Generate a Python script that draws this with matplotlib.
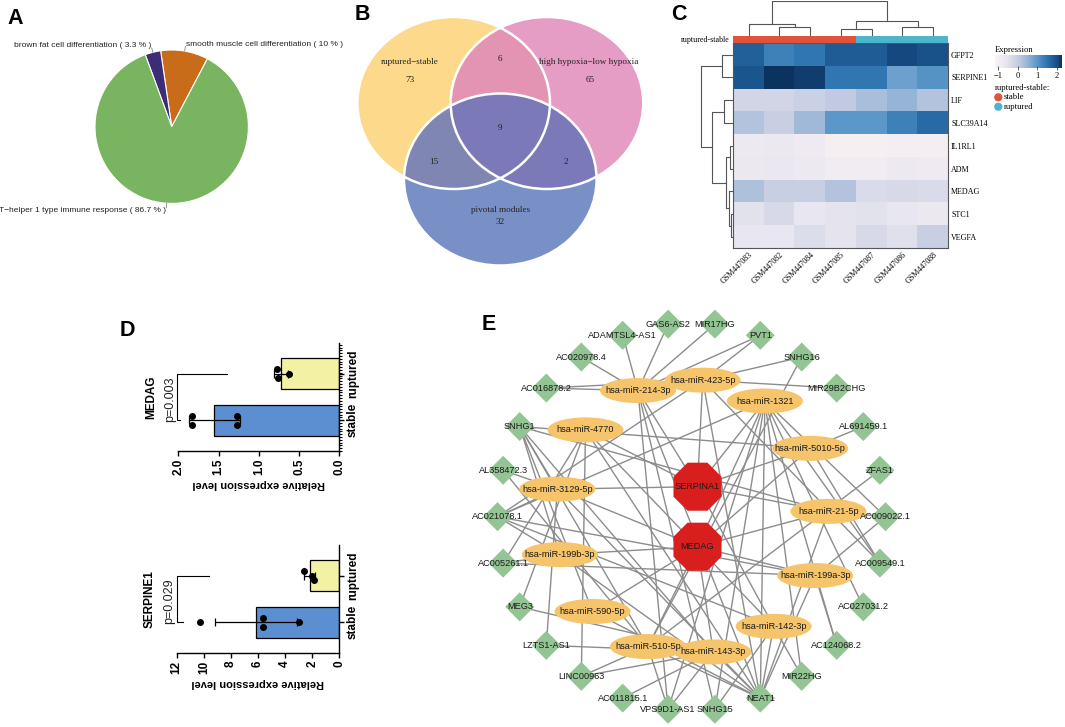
import numpy as np
import matplotlib
matplotlib.use('Agg')
import matplotlib.pyplot as plt
from matplotlib.patches import Ellipse, RegularPolygon, Circle
from matplotlib.collections import LineCollection
from matplotlib.colors import LinearSegmentedColormap
from matplotlib.ticker import MultipleLocator
import matplotlib.transforms as mtransforms

W, H = 1065, 727
SANS = ['Liberation Sans', 'DejaVu Sans']
SERIF = ['Liberation Serif', 'DejaVu Serif']
plt.rcParams['font.family'] = SANS

# ======================= DATA =======================
# --- A: GO pie ---
go_terms = ['smooth muscle cell differentiation', 'brown fat cell differentiation',
            'T\u2212helper 1 type immune response']
go_percent = [10.0, 3.3, 86.7]

# --- B: Venn ---
venn_names = ['ruptured\u2212stable', 'high hypoxia\u2212low hypoxia', 'pivotal modules']
venn_only = [73, 65, 32]          # set1 only, set2 only, set3 only
venn_pairs = [6, 15, 2]           # 1&2, 1&3, 2&3
venn_all = 9

# --- C: heatmap ---
heat_genes = ['GFPT2', 'SERPINE1', 'LIF', 'SLC39A14', 'IL1RL1', 'ADM', 'MEDAG', 'STC1', 'VEGFA']
heat_samples = ['GSM447083', 'GSM447082', 'GSM447084', 'GSM447085', 'GSM447087', 'GSM447086', 'GSM447088']
heat_groups = ['stable', 'stable', 'stable', 'stable', 'ruptured', 'ruptured', 'ruptured']
heat_values = [
    [1.75, 1.30, 1.45, 1.80, 1.80, 2.05, 1.95],
    [1.90, 2.40, 2.15, 1.45, 1.45, 0.85, 1.05],
    [-0.20, -0.20, -0.10, 0.05, 0.30, 0.50, 0.20],
    [0.20, -0.05, 0.40, 1.00, 1.00, 1.30, 1.60],
    [-0.75, -0.70, -0.80, -1.00, -1.00, -0.95, -0.95],
    [-0.70, -0.65, -0.75, -0.85, -0.85, -0.75, -0.80],
    [0.25, -0.05, -0.05, 0.20, -0.35, -0.30, -0.35],
    [-0.50, -0.30, -0.60, -0.55, -0.50, -0.60, -0.70],
    [-0.60, -0.60, -0.40, -0.55, -0.30, -0.45, -0.05],
]
# dendrograms: (height, left, right), leaves = display index
col_tree = (103, (35, 0, (27, 1, 2)), (43, (20, 3, 4), (25, 5, 6)))
row_tree = (100, (35, 0, 1), (65, (30, 2, 3), (22, (10, 4, 5), (13, 6, (8, 7, 8)))))
heat_ticks = [-1, 0, 1, 2]

# --- D: qPCR bars ---
bar_groups = ['stable', 'ruptured']
medag_stable = [1.83, 1.83, 1.275, 1.275]
medag_ruptured = [0.78, 0.76, 0.62]
serpine1_stable = [10.25, 5.66, 5.66, 3.00]
serpine1_ruptured = [2.64, 2.04, 1.88]
medag_p = 'p=0.003'
serpine1_p = 'p=0.029'
medag_bracket = [1.98, 2.02, 1.40]      # stable leg end, bar, ruptured leg end
serpine1_bracket = [11.5, 12.0, 9.6]

# --- E: ceRNA network ---
mirnas = ['hsa-miR-214-3p', 'hsa-miR-4770', 'hsa-miR-3129-5p', 'hsa-miR-199b-3p',
          'hsa-miR-590-5p', 'hsa-miR-510-5p', 'hsa-miR-143-3p', 'hsa-miR-142-3p',
          'hsa-miR-199a-3p', 'hsa-miR-21-5p', 'hsa-miR-5010-5p', 'hsa-miR-1321',
          'hsa-miR-423-5p']
lncrnas = ['AC009022.1', 'ZFAS1', 'AL691459.1', 'MIR29B2CHG', 'SNHG16', 'PVT1', 'MIR17HG',
           'GAS6-AS2', 'ADAMTSL4-AS1', 'AC020978.4', 'AC016878.2', 'SNHG1', 'AL358472.3',
           'AC021078.1', 'AC005261.1', 'MEG3', 'LZTS1-AS1', 'LINC00963', 'AC011815.1',
           'VPS9D1-AS1', 'SNHG15', 'NEAT1', 'MIR22HG', 'AC124068.2', 'AC027031.2', 'AC009549.1']
mrnas = ['SERPINA1', 'MEDAG']
net_edges = {
    'hsa-miR-214-3p': ['ADAMTSL4-AS1', 'GAS6-AS2', 'MIR17HG', 'PVT1', 'AC020978.4', 'AC016878.2',
                       'VPS9D1-AS1', 'SNHG15', 'NEAT1', 'SERPINA1'],
    'hsa-miR-423-5p': ['PVT1', 'SNHG16', 'MIR29B2CHG', 'AC016878.2', 'AC021078.1', 'SERPINA1',
                       'NEAT1', 'AC009549.1'],
    'hsa-miR-1321': ['AC021078.1', 'SERPINA1', 'MEDAG', 'NEAT1', 'SNHG15', 'VPS9D1-AS1', 'MIR22HG',
                     'AC124068.2', 'AC027031.2', 'AC009549.1', 'AC009022.1'],
    'hsa-miR-4770': ['LINC00963', 'MEG3', 'AC005261.1', 'SERPINA1', 'MEDAG', 'NEAT1'],
    'hsa-miR-5010-5p': ['AL691459.1', 'SNHG1', 'AC009549.1', 'SERPINA1', 'MEDAG'],
    'hsa-miR-3129-5p': ['SNHG1', 'AL358472.3', 'AC021078.1', 'LZTS1-AS1', 'SERPINA1', 'MEDAG', 'NEAT1'],
    'hsa-miR-21-5p': ['SNHG1', 'AC009022.1', 'SERPINA1', 'MEDAG', 'NEAT1'],
    'hsa-miR-199b-3p': ['SNHG1', 'AC021078.1', 'AC005261.1', 'MEDAG', 'NEAT1'],
    'hsa-miR-199a-3p': ['AC021078.1', 'AC005261.1', 'AC009022.1', 'AC124068.2', 'MEDAG', 'NEAT1'],
    'hsa-miR-590-5p': ['SNHG1', 'MEDAG', 'NEAT1'],
    'hsa-miR-142-3p': ['AC021078.1', 'SERPINA1', 'MEDAG', 'NEAT1', 'SNHG15', 'MIR22HG'],
    'hsa-miR-510-5p': ['SNHG1', 'AL358472.3', 'SNHG16', 'ZFAS1', 'LINC00963', 'VPS9D1-AS1', 'MEDAG', 'NEAT1'],
    'hsa-miR-143-3p': ['SNHG1', 'MEG3', 'LZTS1-AS1', 'LINC00963', 'AC011815.1', 'VPS9D1-AS1', 'MEDAG', 'NEAT1'],
}

# ======================= FIGURE =======================
fig = plt.figure(figsize=(W / 100, H / 100), dpi=100)


def box(x, y, w, h):
    return [x / W, 1 - (y + h) / H, w / W, h / H]


ov = fig.add_axes([0, 0, 1, 1])
ov.set_xlim(0, W)
ov.set_ylim(H, 0)
ov.axis('off')

# panel letters
for letter, (lx, ly) in zip('ABCDE', [(15, 18), (362, 14), (679, 14), (127, 331), (489, 325)]):
    ov.text(lx, ly, letter, fontsize=15.5, fontweight='bold', ha='center', va='center')

# ---------------- A: pie ----------------
pcx, pcy, prad = 171.7, 126.7, 76.7
axA = fig.add_axes(box(pcx - 1.5 * prad, pcy - 1.5 * prad, 3 * prad, 3 * prad))
go_colors = ['#C96C19', '#3D2C78', '#79B460']
wedges, _ = axA.pie(go_percent, colors=go_colors, startangle=62.3, counterclock=True,
                    wedgeprops=dict(edgecolor='white', linewidth=0.8))
axA.set_xlim(-1.5, 1.5)
axA.set_ylim(-1.5, 1.5)
axA.set_aspect('equal')
axA.axis('off')
for wdg, term, pct in zip(wedges, go_terms, go_percent):
    ang = np.deg2rad((wdg.theta1 + wdg.theta2) / 2)
    c, s = np.cos(ang), np.sin(ang)
    axA.plot([1.0 * c, 1.06 * c], [1.0 * s, 1.06 * s], color='#888888', lw=0.6)
    axA.text(1.09 * c, 1.09 * s, f'{term} ( {pct:g} % )', ha='left' if c > 0 else 'right',
             va='center', fontsize=6, color='#222222')

# ---------------- B: Venn ----------------
vmid, vsep, vcy, vdy = 500.3, 93.3, 103.0, 76.5
vrx, vry = 96.3, 86.0
cY = (vmid - vsep / 2, vcy)
cP = (vmid + vsep / 2, vcy)
cB = (vmid, vcy + vdy)
colY, colP, colB = '#FDD98B', '#E59CC5', '#7890C6'
colYP, colYB, colPB = '#E294B2', '#8086B2', '#7B79B8'
eY = Ellipse(cY, 2 * vrx, 2 * vry, fc=colY, ec='none', zorder=1)
eP = Ellipse(cP, 2 * vrx, 2 * vry, fc=colP, ec='none', zorder=1)
eB = Ellipse(cB, 2 * vrx, 2 * vry, fc=colB, ec='none', zorder=1)
for e in (eY, eP, eB):
    ov.add_patch(e)
yp = Ellipse(cP, 2 * vrx, 2 * vry, fc=colYP, ec='none', zorder=1.1)
ov.add_patch(yp)
yp.set_clip_path(eY)
yb = Ellipse(cB, 2 * vrx, 2 * vry, fc=colYB, ec='none', zorder=1.2)
ov.add_patch(yb)
yb.set_clip_path(eY)
pb = Ellipse(cB, 2 * vrx, 2 * vry, fc=colPB, ec='none', zorder=1.3)
ov.add_patch(pb)
pb.set_clip_path(eP)
for c in (cY, cP, cB):
    ov.add_patch(Ellipse(c, 2 * vrx, 2 * vry, fill=False, ec='white', lw=1.8, zorder=1.5))
vt = dict(fontsize=6.6, ha='center', va='center', family=SERIF, color='#222222', zorder=2)
ov.text(cY[0] - 44, vcy - 41.5, venn_names[0], **vt)
ov.text(cY[0] - 44, vcy - 22.5, str(venn_only[0]), **vt)
ov.text(cP[0] + 42, vcy - 41, venn_names[1], **vt)
ov.text(cP[0] + 43, vcy - 22.5, str(venn_only[1]), **vt)
ov.text(vmid, vcy - 44, str(venn_pairs[0]), **vt)
ov.text(vmid, vcy + 24.5, str(venn_all), **vt)
ov.text(cY[0] - 19.4, vcy + 59.5, str(venn_pairs[1]), **vt)
ov.text(cP[0] + 19, vcy + 59.5, str(venn_pairs[2]), **vt)
ov.text(vmid, cB[1] + 30, venn_names[2], **vt)
ov.text(vmid, cB[1] + 43, str(venn_only[2]), **vt)

# ---------------- C: heatmap ----------------
vmin, vmax = -1.15, 2.25
stops = [(-1.15, '#FCF3F4'), (-0.6, '#E8E6F0'), (0.0, '#C6CDE2'), (0.5, '#97B5D6'),
         (1.0, '#5B97C8'), (1.5, '#2C73AF'), (2.0, '#184E86'), (2.25, '#0C3260')]
cmap = LinearSegmentedColormap.from_list('expr', [((v - vmin) / (vmax - vmin), c) for v, c in stops])
hx, hy, hw, hh = 733.3, 43.3, 215.0, 205.0
axH = fig.add_axes(box(hx, hy, hw, hh))
axH.imshow(np.array(heat_values), cmap=cmap, vmin=vmin, vmax=vmax, aspect='auto', interpolation='nearest')
axH.yaxis.tick_right()
axH.set_yticks(range(len(heat_genes)))
axH.set_yticklabels(heat_genes, family=SERIF, fontsize=5.8)
axH.set_xticks(range(len(heat_samples)))
axH.set_xticklabels(heat_samples, family=SERIF, fontsize=5.8, rotation=45, ha='right', va='top',
                    rotation_mode='anchor')
axH.tick_params(length=0, pad=2)
for sp in axH.spines.values():
    sp.set_color('#555555')
    sp.set_linewidth(0.8)

grp_col = {'stable': '#E0533A', 'ruptured': '#4CB5CC'}
axAnn = fig.add_axes(box(hx, 36.0, hw, 6.7))
axAnn.bar(range(len(heat_groups)), 1, width=1.0, color=[grp_col[g] for g in heat_groups], edgecolor='none')
axAnn.set_xlim(-0.5, len(heat_groups) - 0.5)
axAnn.set_ylim(0, 1)
axAnn.axis('off')
ov.text(730, 39.5, 'ruptured-stable', family=SERIF, fontsize=5.8, ha='right', va='center')


def draw_tree(ax, node, vertical):
    if isinstance(node, int):
        return float(node), 0.0
    hgt, a, b = node
    pa, ha_ = draw_tree(ax, a, vertical)
    pb_, hb = draw_tree(ax, b, vertical)
    xs, ys = [pa, pa, pb_, pb_], [ha_, hgt, hgt, hb]
    if vertical:
        ax.plot(xs, ys, color='#555555', lw=0.8)
    else:
        ax.plot(ys, xs, color='#555555', lw=0.8)
    return (pa + pb_) / 2, hgt


axCD = fig.add_axes(box(hx, 1.0, hw, 34.5))
draw_tree(axCD, col_tree, True)
axCD.set_xlim(-0.5, len(heat_samples) - 0.5)
axCD.set_ylim(0, 104)
axCD.axis('off')
axRD = fig.add_axes(box(700.0, hy, hx - 700.0, hh))
draw_tree(axRD, row_tree, False)
axRD.set_ylim(len(heat_genes) - 0.5, -0.5)
axRD.set_xlim(102, 0)
axRD.axis('off')

# legend
ov.text(995, 50, 'Expression', family=SERIF, fontsize=6.2, ha='left', va='center')
axCB = fig.add_axes(box(995, 55, 66.7, 13.3))
axCB.imshow(np.linspace(vmin, vmax, 256)[None, :], cmap=cmap, vmin=vmin, vmax=vmax, aspect='auto',
            extent=(vmin, vmax, 0, 1))
axCB.set_xlim(vmin, vmax)
axCB.set_ylim(0, 1)
axCB.set_yticks([])
axCB.set_xticks(heat_ticks)
axCB.set_xticklabels([str(t).replace('-', '\u2212') for t in heat_ticks], family=SERIF, fontsize=6)
axCB.tick_params(axis='x', length=2.5, width=0.6, color='#444444', pad=1.5, direction='inout')
for sp in axCB.spines.values():
    sp.set_visible(False)
ov.text(995, 88.3, 'ruptured-stable:', family=SERIF, fontsize=6.2, ha='left', va='center')
for i, g in enumerate(['stable', 'ruptured']):
    yy = 97.3 + i * 9.4
    ov.add_patch(Circle((998.3, yy), 3.4, color=grp_col[g]))
    ov.text(1003.5, yy, g, family=SERIF, fontsize=6.2, ha='left', va='center')

# ---------------- D: rotated bar charts ----------------


def cluster_offsets(vals, ppu, thresh=10.0, off=0.1):
    vals = np.asarray(vals, float)
    order = np.argsort(vals)
    offs = np.zeros(len(vals))
    clusters, cur = [], [order[0]]
    for a, b in zip(order[:-1], order[1:]):
        if (vals[b] - vals[a]) * ppu < thresh:
            cur.append(b)
        else:
            clusters.append(cur)
            cur = [b]
    clusters.append(cur)
    for cl in clusters:
        if len(cl) > 1:
            offs[cl] = np.linspace(-off, off, len(cl))
    return offs


def rotated_bar(bx, title, stable, ruptured, pval, vtop, step, fmt, bracket, minor):
    ax = fig.add_axes(box(*bx))
    data = [np.array(stable, float), np.array(ruptured, float)]
    means = [d.mean() for d in data]
    sds = [d.std(ddof=1) for d in data]
    ax.barh([0, 1], means, height=0.66, color=['#5B8FD1', '#F3F1A3'], edgecolor='black',
            linewidth=0.9, zorder=2)
    ax.errorbar(means, [0, 1], xerr=sds, fmt='none', ecolor='black', elinewidth=0.9,
                capsize=3, capthick=0.9, zorder=3)
    ppu = bx[2] / vtop
    for i, d in enumerate(data):
        ax.scatter(d, i + cluster_offsets(d, ppu), s=16, color='black', zorder=4, clip_on=False)
    ax.set_xlim(vtop, 0)
    ax.set_ylim(-0.66, 1.66)
    ax.spines['left'].set_visible(False)
    ax.spines['top'].set_visible(False)
    ax.spines['bottom'].set_bounds(0, vtop)
    for sp in ('bottom', 'right'):
        ax.spines[sp].set_linewidth(1.0)
    ticks = np.arange(0, vtop + step / 2, step)
    ax.set_xticks(ticks)
    ax.set_xticklabels([fmt.format(t) for t in ticks], rotation=90, ha='center', va='top',
                       fontweight='bold', fontsize=8.5)
    ax.yaxis.tick_right()
    ax.set_yticks([0, 1])
    ax.set_yticklabels(bar_groups, rotation=90, va='center', ha='left', fontweight='bold', fontsize=8.5)
    ax.tick_params(length=3.5, width=1.0, pad=2)
    if minor:
        ax.yaxis.set_minor_locator(MultipleLocator(0.06))
        ax.tick_params(axis='y', which='minor', length=1.8, width=0.8)
    ax.set_xlabel('Relative expression level', rotation=180, fontweight='bold', fontsize=8, labelpad=3)
    ax.text(-0.165, 0.5, title, transform=ax.transAxes, rotation=90, ha='center', va='center',
            fontweight='bold', fontsize=8.5)
    trans = mtransforms.blended_transform_factory(ax.transAxes, ax.transData)
    ax.text(-0.048, -0.04, pval, transform=trans, rotation=90, ha='center', va='bottom', fontsize=9,
            color='#222222')
    ax.plot([bracket[0], bracket[1], bracket[1], bracket[2]], [0, 0, 1, 1], color='black', lw=0.8,
            clip_on=False)
    return ax


rotated_bar((178.3, 343.0, 161.0, 108.0), 'MEDAG', medag_stable, medag_ruptured, medag_p,
            2.0, 0.5, '{:.1f}', medag_bracket, True)
rotated_bar((176.7, 545.0, 162.6, 108.0), 'SERPINE1', serpine1_stable, serpine1_ruptured, serpine1_p,
            12.0, 2.0, '{:.0f}', serpine1_bracket, False)

# ---------------- E: network ----------------
ncx, ncy = 691.5, 516.7
r_out, r_in = 194.0, 137.0
pos = {}
for k, name in enumerate(lncrnas):
    a = np.deg2rad(k * 360.0 / len(lncrnas))
    pos[name] = (ncx + r_out * np.cos(a), ncy - r_out * np.sin(a))
for k, name in enumerate(mirnas):
    a = np.deg2rad(113.0 + k * 360.0 / len(mirnas))
    pos[name] = (ncx + r_in * np.cos(a), ncy - r_in * np.sin(a))
for k, name in enumerate(mrnas):
    pos[name] = (ncx + 6.0, ncy + (k - 0.5) * 60.0)

segs = [[pos[m], pos[t]] for m, targets in net_edges.items() for t in targets]
ov.add_collection(LineCollection(segs, colors='#8C8C8C', linewidths=1.0, zorder=3))
for name in lncrnas:
    ov.add_patch(RegularPolygon(pos[name], 4, radius=14.5, fc='#93C493', ec='none', zorder=4))
for name in mirnas:
    ov.add_patch(Ellipse(pos[name], 76, 25, fc='#F6C46B', ec='none', zorder=4))
for name in mrnas:
    ov.add_patch(RegularPolygon(pos[name], 8, radius=26, orientation=np.pi / 8, fc='#D91E1E',
                                ec='none', zorder=4))
for name in lncrnas + mirnas + mrnas:
    ov.text(pos[name][0], pos[name][1], name, fontsize=6.6, ha='center', va='center',
            color='#1a1a1a', zorder=5)

fig.savefig('out.png', dpi=100)
